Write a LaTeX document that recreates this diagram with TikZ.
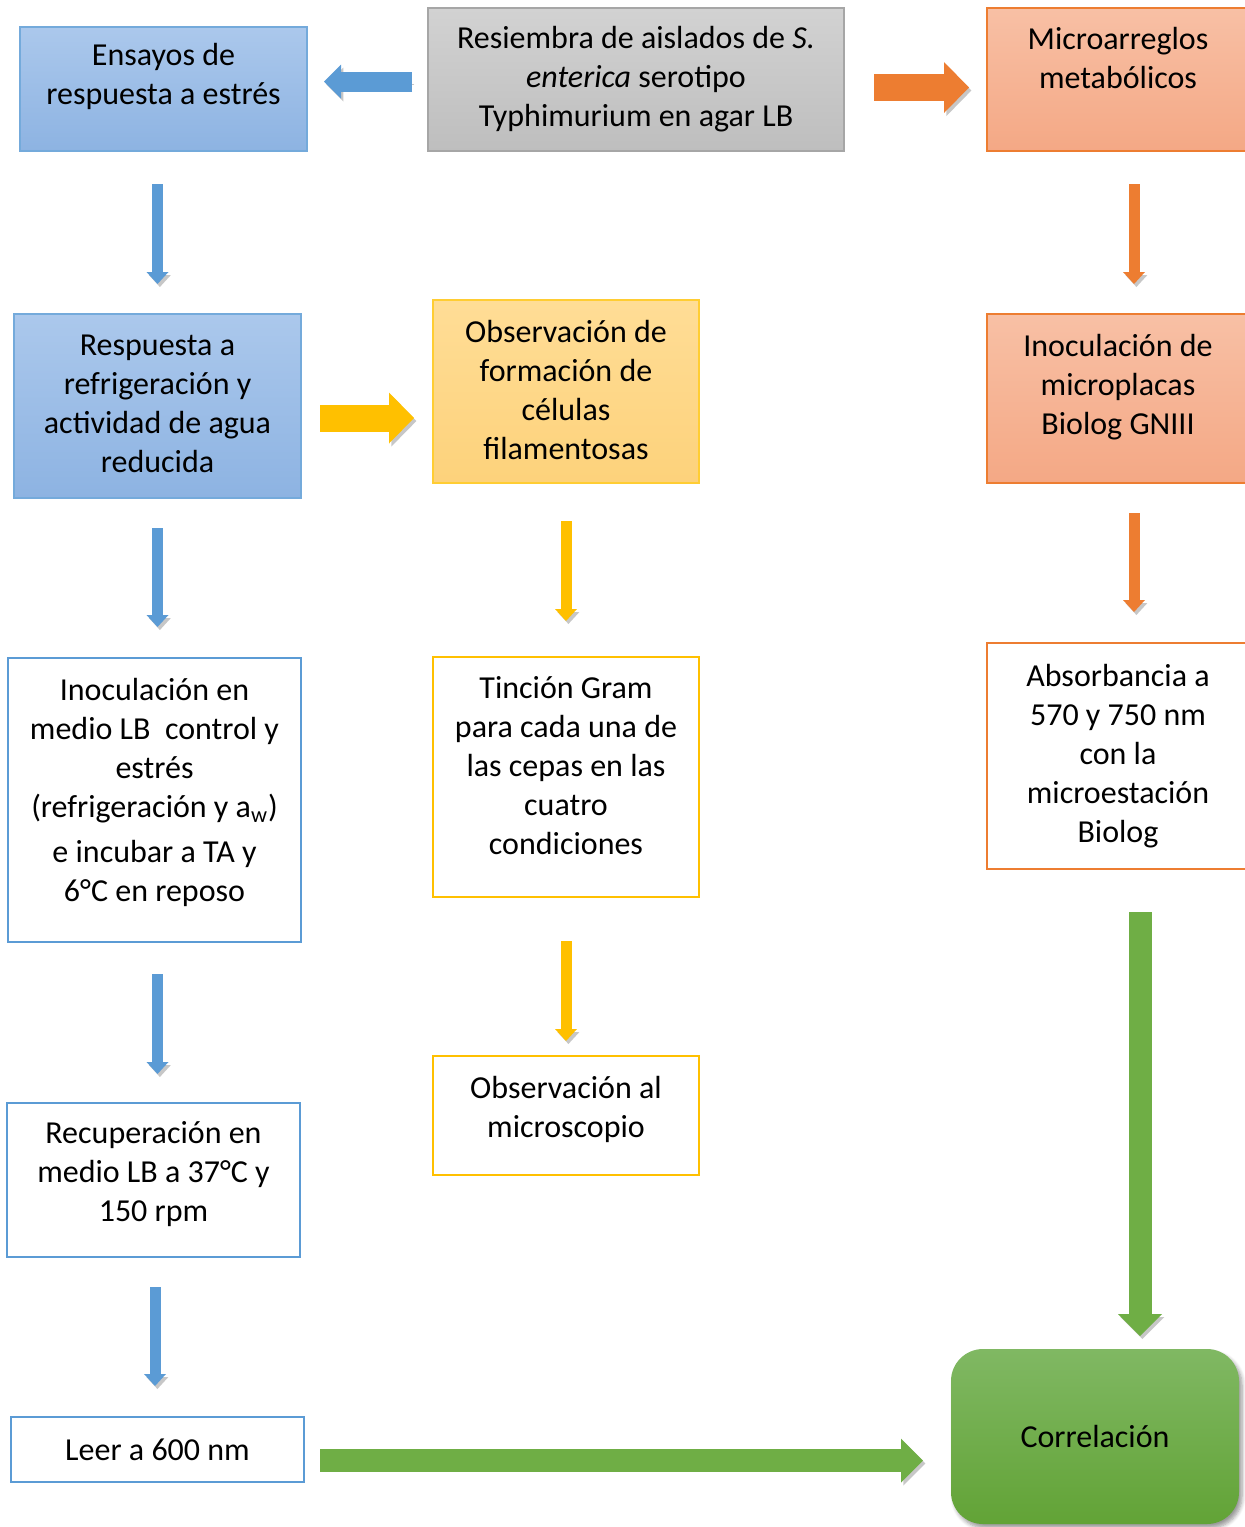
\documentclass[tikz,border=0pt]{standalone}
\usepackage{fontspec}
\setmainfont{Carlito}
\usetikzlibrary{arrows.meta,shadows.blur}
\definecolor{blueline}{HTML}{5B9BD5}
\definecolor{bluetop}{HTML}{ABC8EC}
\definecolor{bluebot}{HTML}{8DB3E2}
\definecolor{graytop}{HTML}{D2D2D2}
\definecolor{graybot}{HTML}{BEBEBE}
\definecolor{orangeline}{HTML}{ED7D31}
\definecolor{salmontop}{HTML}{F8C0A5}
\definecolor{salmonbot}{HTML}{F4A885}
\definecolor{yellowline}{HTML}{FFC000}
\definecolor{yellowtop}{HTML}{FFDD96}
\definecolor{yellowbot}{HTML}{FDD27B}
\definecolor{greentop}{HTML}{80B863}
\definecolor{greenbot}{HTML}{62A336}
\definecolor{greenline}{HTML}{6FAE45}

\begin{document}
\begin{tikzpicture}[x=0.5pt,y=-0.5pt,
  box/.style={draw,align=center,inner sep=2pt,line width=1pt,
    font=\fontsize{16pt}{19.5pt}\selectfont},
  bluebox/.style={box,draw=blueline!85!white,top color=bluetop,bottom color=bluebot},
  graybox/.style={box,draw=black!35,top color=graytop,bottom color=graybot},
  salmonbox/.style={box,draw=orangeline,top color=salmontop,bottom color=salmonbot},
  yellowbox/.style={box,draw=yellowline!80!white,top color=yellowtop,bottom color=yellowbot},
  blueline box/.style={box,draw=blueline},
  yellowline box/.style={box,draw=yellowline},
  orangeline box/.style={box,draw=orangeline},
  arrshadow/.style={preaction={draw=black!22,transform canvas={shift={(1.2pt,-1.5pt)}}}},
  thinarr/.style={arrshadow,line width=5.5pt,-{Triangle[width=11pt,length=6pt,line width=0pt]}},
  widearr/.style={arrshadow,line width=13.5pt,-{Triangle[width=25.5pt,length=12.5pt,line width=0pt]}},
  greenarr/.style={arrshadow,draw=greenline,line width=11.5pt,-{Triangle[width=22pt,length=11pt,line width=0pt]}}]
\useasboundingbox (0,0) rectangle (1244,1527);

% top row
\node [bluebox,minimum width=143.5pt,minimum height=62pt,text depth=15pt](ensayos) at (163.5,89) {Ensayos de\\respuesta a estrés};
\node [graybox,minimum width=208pt,minimum height=71.5pt](resiembra) at (636,79.5) {Resiembra de aislados de \textit{S.}\\\textit{enterica} serotipo\\Typhimurium en agar LB};
\node [salmonbox,minimum width=131pt,minimum height=71.5pt,text depth=22pt](micro) at (1118,79.5) {Microarreglos\\metabólicos};

% second row
\node [bluebox,minimum width=143.5pt,minimum height=92pt,text depth=2pt](resp) at (157.5,406) {Respuesta a\\refrigeración y\\actividad de agua\\reducida};
\node [yellowbox,minimum width=133pt,minimum height=91.5pt,text depth=2pt](obsform) at (566,391.5) {Observación de\\formación de\\células\\filamentosas};
\node [salmonbox,minimum width=131pt,minimum height=84.5pt,text depth=14pt](inocmicro) at (1118,398.5) {Inoculación de\\microplacas\\Biolog GNIII};

% third row
\node [blueline box,minimum width=146.5pt,minimum height=142pt,text depth=10pt](inocmedio) at (154.5,800) {Inoculación en\\medio LB\ \ control y\\estrés\\(refrigeración y a\textsubscript{w})\\[3pt]e incubar a TA y\\6°C en reposo};
\node [yellowline box,minimum width=133pt,minimum height=120pt,text depth=12pt](tincion) at (566,777) {Tinción Gram\\para cada una de\\las cepas en las\\cuatro\\condiciones};
\node [orangeline box,minimum width=131pt,minimum height=113pt](absorb) at (1118,756) {Absorbancia a\\570 y 750 nm\\con la\\microestación\\Biolog};

% fourth row
\node [blueline box,minimum width=146.5pt,minimum height=77pt,text depth=9pt](recup) at (153.5,1180) {Recuperación en\\medio LB a 37°C y\\150 rpm};
\node [yellowline box,minimum width=133pt,minimum height=59.5pt,text depth=9pt](obsmicro) at (566,1115.5) {Observación al\\microscopio};
\node [blueline box,minimum width=146.5pt,minimum height=32.5pt](leer) at (157.5,1449.5) {Leer a 600 nm};
\node [box,draw=none,rounded corners=16pt,minimum width=144pt,minimum height=87.5pt,
  top color=greentop,bottom color=greenbot,
  blur shadow={shadow xshift=1.5pt,shadow yshift=-2pt,shadow blur steps=6}](correl) at (1095,1436.5) {Correlación};

% arrows
\draw [draw=blueline,line width=10pt,arrshadow,-{Triangle[width=17pt,length=8.5pt,line width=0pt]},shorten <=7.5pt,shorten >=8pt]
  ([yshift=-1pt]resiembra.west) -- ([yshift=-1pt]resiembra.west -| ensayos.east);
\draw [widearr,draw=orangeline,shorten <=14.5pt,shorten >=8.5pt]
  ([yshift=-4pt]resiembra.east) -- ([yshift=-4pt]resiembra.east -| micro.west);
\draw [widearr,draw=yellowline,shorten <=9pt,shorten >=9pt]
  ([yshift=-6pt]resp.east) -- ([yshift=-6pt]resp.east -| obsform.west);

\draw [thinarr,draw=blueline,shorten <=16pt,shorten >=14.5pt] (ensayos.south -| resp.north) -- (resp.north);
\draw [thinarr,draw=blueline,shorten <=14.5pt,shorten >=15pt] (resp.south) -- (resp.south |- inocmedio.north);
\draw [thinarr,draw=blueline,shorten <=15.5pt,shorten >=14pt] (inocmedio.south -| resp.south) -- (recup.north -| resp.south);
\draw [thinarr,draw=blueline,shorten <=14.5pt,shorten >=15pt] ([xshift=0.75pt]recup.south) -- ([xshift=0.75pt]recup.south |- leer.north);

\draw [thinarr,draw=yellowline,shorten <=18.5pt,shorten >=17.5pt] (obsform.south) -- (tincion.north);
\draw [thinarr,draw=yellowline,shorten <=21.5pt,shorten >=7pt] (tincion.south) -- (obsmicro.north);

\draw [thinarr,draw=orangeline,shorten <=16pt,shorten >=14.5pt] ([xshift=8pt]micro.south) -- ([xshift=8pt]inocmicro.north);
\draw [thinarr,draw=orangeline,shorten <=14.5pt,shorten >=15pt] ([xshift=8pt]inocmicro.south) -- ([xshift=8pt]absorb.north);

\draw [greenarr,shorten <=21pt,shorten >=6pt] ([xshift=11pt]absorb.south) -- ([xshift=11pt]absorb.south |- correl.north);
\draw [greenarr,shorten <=7.5pt,shorten >=13.5pt] ([yshift=-5.5pt]leer.east) -- ([yshift=-5.5pt]leer.east -| correl.west);
\end{tikzpicture}
\end{document}
